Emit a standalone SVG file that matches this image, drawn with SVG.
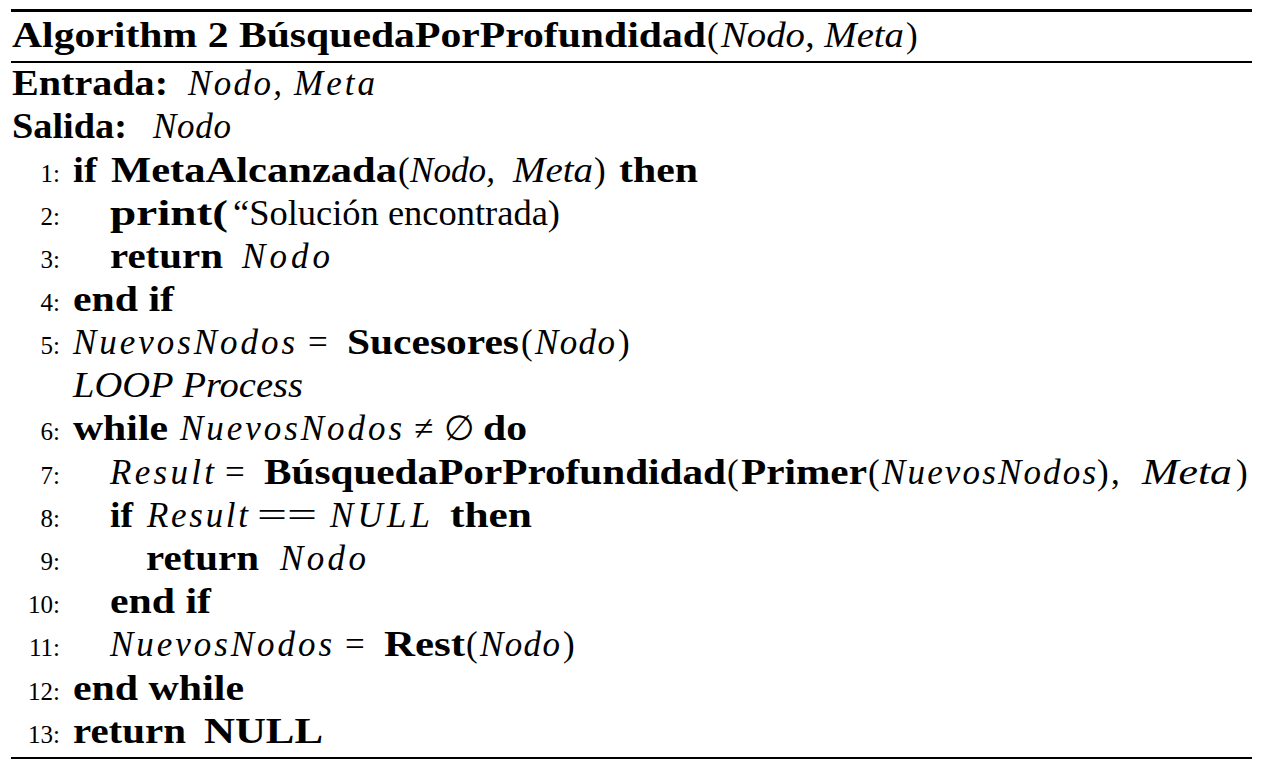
<svg xmlns="http://www.w3.org/2000/svg" width="1263" height="768" viewBox="0 0 1263 768">
<style>
text{font-family:"Liberation Serif","Times New Roman",serif;fill:#000;font-size:35px}
.b{font-weight:bold}
.i{font-style:italic}
.m{font-style:italic}
.n{font-size:25px;text-anchor:end}
</style>
<rect width="1263" height="768" fill="#fff"/>
<g id="rules" fill="#000">
<rect x="11" y="9" width="1241" height="3"/>
<rect x="11" y="61" width="1241" height="2"/>
<rect x="11" y="757" width="1241" height="2"/>
</g>
<g id="title">
<text class="b" x="12" y="47" textLength="694" lengthAdjust="spacingAndGlyphs">Algorithm 2 BúsquedaPorProfundidad</text>
<text x="707" y="47">(</text>
<text class="i" x="721" y="47" textLength="183" lengthAdjust="spacingAndGlyphs">Nodo, Meta</text>
<text x="906" y="47">)</text>
</g>
<g id="entrada">
<text class="b" x="12" y="95" textLength="156" lengthAdjust="spacingAndGlyphs">Entrada:</text>
<text class="m" x="188" y="95" textLength="94">Nodo,</text>
<text class="m" x="294" y="95" textLength="81">Meta</text>
</g>
<g id="salida">
<text class="b" x="12" y="138" textLength="115" lengthAdjust="spacingAndGlyphs">Salida:</text>
<text class="m" x="153" y="138" textLength="78">Nodo</text>
</g>
<g id="line1">
<text class="n" x="60" y="182">1:</text>
<text class="b" x="73" y="182" textLength="24" lengthAdjust="spacingAndGlyphs">if</text>
<text class="b" x="111" y="182" textLength="286" lengthAdjust="spacingAndGlyphs">MetaAlcanzada</text>
<text x="398" y="182">(</text>
<text class="i" x="410" y="182" textLength="85" lengthAdjust="spacingAndGlyphs">Nodo,</text>
<text class="i" x="513" y="182" textLength="80" lengthAdjust="spacingAndGlyphs">Meta</text>
<text x="594" y="182">)</text>
<text class="b" x="619" y="182" textLength="79" lengthAdjust="spacingAndGlyphs">then</text>
</g>
<g id="line2">
<text class="n" x="60" y="225">2:</text>
<text class="b" x="110" y="225" textLength="118" lengthAdjust="spacingAndGlyphs">print(</text>
<text x="233" y="225" textLength="327" lengthAdjust="spacingAndGlyphs">“Solución encontrada)</text>
</g>
<g id="line3">
<text class="n" x="60" y="268">3:</text>
<text class="b" x="110" y="268" textLength="113" lengthAdjust="spacingAndGlyphs">return</text>
<text class="m" x="242" y="268" textLength="88">Nodo</text>
</g>
<g id="line4">
<text class="n" x="60" y="311">4:</text>
<text class="b" x="73" y="311" textLength="101" lengthAdjust="spacingAndGlyphs">end if</text>
</g>
<g id="line5">
<text class="n" x="60" y="354">5:</text>
<text class="m" x="73" y="354" textLength="222">NuevosNodos</text>
<text x="308" y="354">=</text>
<text class="b" x="347" y="354" textLength="172" lengthAdjust="spacingAndGlyphs">Sucesores</text>
<text x="521" y="354">(</text>
<text class="m" x="535" y="354" textLength="80">Nodo</text>
<text x="618" y="354">)</text>
</g>
<g id="loop">
<text class="i" x="73" y="397" textLength="230" lengthAdjust="spacingAndGlyphs">LOOP Process</text>
</g>
<g id="line6">
<text class="n" x="60" y="440">6:</text>
<text class="b" x="73" y="440" textLength="95" lengthAdjust="spacingAndGlyphs">while</text>
<text class="m" x="180" y="440" textLength="222">NuevosNodos</text>
<text x="414" y="440">≠</text>
<text x="444" y="440" font-size="30">∅</text>
<text class="b" x="483" y="440" textLength="44" lengthAdjust="spacingAndGlyphs">do</text>
</g>
<g id="line7">
<text class="n" x="60" y="484">7:</text>
<text class="m" x="110" y="484" textLength="104">Result</text>
<text x="225" y="484">=</text>
<text class="b" x="264" y="484" textLength="462" lengthAdjust="spacingAndGlyphs">BúsquedaPorProfundidad</text>
<text x="727" y="484">(</text>
<text class="b" x="741" y="484" textLength="126" lengthAdjust="spacingAndGlyphs">Primer</text>
<text x="868" y="484">(</text>
<text class="m" x="882" y="484" textLength="214">NuevosNodos</text>
<text x="1097" y="484">)</text>
<text x="1111" y="484">,</text>
<text class="i" x="1142" y="484" textLength="90" lengthAdjust="spacingAndGlyphs">Meta</text>
<text x="1236" y="484">)</text>
</g>
<g id="line8">
<text class="n" x="60" y="527">8:</text>
<text class="b" x="110" y="527" textLength="23" lengthAdjust="spacingAndGlyphs">if</text>
<text class="m" x="147" y="527" textLength="101">Result</text>
<text x="257" y="527" textLength="60" lengthAdjust="spacingAndGlyphs">==</text>
<text class="m" x="330" y="527" textLength="100">NULL</text>
<text class="b" x="450" y="527" textLength="82" lengthAdjust="spacingAndGlyphs">then</text>
</g>
<g id="line9">
<text class="n" x="60" y="570">9:</text>
<text class="b" x="146" y="570" textLength="113" lengthAdjust="spacingAndGlyphs">return</text>
<text class="m" x="280" y="570" textLength="86">Nodo</text>
</g>
<g id="line10">
<text class="n" x="60" y="613">10:</text>
<text class="b" x="110" y="613" textLength="101" lengthAdjust="spacingAndGlyphs">end if</text>
</g>
<g id="line11">
<text class="n" x="60" y="656">11:</text>
<text class="m" x="110" y="656" textLength="222">NuevosNodos</text>
<text x="345" y="656">=</text>
<text class="b" x="384" y="656" textLength="81" lengthAdjust="spacingAndGlyphs">Rest</text>
<text x="466" y="656">(</text>
<text class="m" x="480" y="656" textLength="80">Nodo</text>
<text x="563" y="656">)</text>
</g>
<g id="line12">
<text class="n" x="60" y="700">12:</text>
<text class="b" x="73" y="700" textLength="171" lengthAdjust="spacingAndGlyphs">end while</text>
</g>
<g id="line13">
<text class="n" x="60" y="743">13:</text>
<text class="b" x="73" y="743" textLength="113" lengthAdjust="spacingAndGlyphs">return</text>
<text class="b" x="204" y="743" textLength="119" lengthAdjust="spacingAndGlyphs">NULL</text>
</g>
</svg>
